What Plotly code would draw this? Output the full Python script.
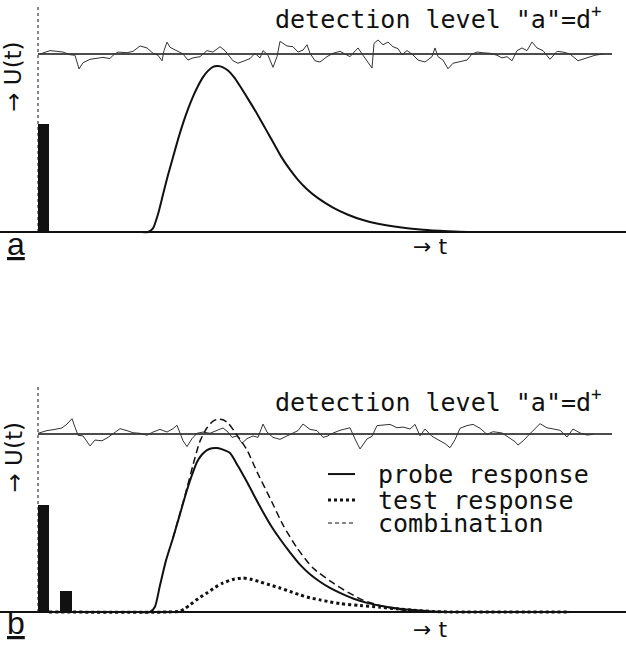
import plotly.graph_objects as go

# ---------------- data ----------------
level = 1.0          # detection level "a" = d+
t_end = 588

# stimulus bars: centre, width, height
bar_a_x = [5.5]
bar_a_w = [11]
bar_a_h = [0.607]
bar_b_x = [5.5, 28]
bar_b_w = [11, 12]
bar_b_h = [0.601, 0.119]

# probe response, panel a
probe_a_t = [11, 100, 110, 115, 120, 125, 130, 135, 140, 145, 150, 155, 160, 165, 170, 175,
             180, 185, 190, 196, 202, 210, 219, 227, 235, 243, 252, 260, 269, 280, 295, 310,
             325, 340, 358, 385, 410, 430, 588]
probe_a_u = [0, 0, 0, 0.02, 0.10, 0.21, 0.32, 0.42, 0.52, 0.61, 0.69, 0.76, 0.82, 0.87, 0.905, 0.928,
             0.932, 0.925, 0.907, 0.87, 0.82, 0.748, 0.665, 0.585, 0.505, 0.425, 0.35, 0.293, 0.24, 0.19,
             0.137, 0.097, 0.067, 0.046, 0.029, 0.012, 0.004, 0, 0]

# probe response, panel b
probe_b_t = [11, 100, 112, 117, 122, 128, 135, 142, 149, 154, 159, 164, 169, 174, 179, 185,
             192, 200, 209, 217, 225, 233, 242, 252, 262, 272, 282, 292, 302, 315, 330, 342,
             358, 375, 395, 412, 588]
probe_b_u = [0, 0, 0, 0.03, 0.15, 0.29, 0.416, 0.55, 0.685, 0.77, 0.843, 0.885, 0.91, 0.92, 0.921, 0.912,
             0.893, 0.82, 0.73, 0.645, 0.562, 0.485, 0.41, 0.335, 0.266, 0.212, 0.17, 0.135, 0.107,
             0.076, 0.05, 0.035, 0.021, 0.011, 0.003, 0, 0]

# test response, panel b
test_t = [11, 130, 142, 147, 152, 160, 169, 177, 185, 195, 205, 213, 222, 232, 242, 252, 262,
          272, 282, 292, 302, 322, 342, 358, 375, 395, 412, 532]
test_u = [0, 0, 0.005, 0.02, 0.04, 0.075, 0.107, 0.138, 0.163, 0.183, 0.191, 0.184, 0.169, 0.152,
          0.135, 0.115, 0.096, 0.08, 0.068, 0.057, 0.047, 0.036, 0.027, 0.018, 0.01, 0.003, 0, 0]

# combination (probe + test), panel b
comb_t = [135, 142, 149, 155, 162, 169, 175, 180, 185, 190, 199, 209, 219, 232, 245, 259, 275,
          295, 310, 325, 348, 372, 402]
comb_u = [0.416, 0.555, 0.697, 0.826, 0.96, 1.035, 1.072, 1.084, 1.08, 1.062, 0.994, 0.910, 0.787,
          0.640, 0.489, 0.360, 0.247, 0.163, 0.11, 0.067, 0.028, 0.006, 0]

# background noise around the detection level (deviation from level)
noise_a_t = [2, 5, 12, 19, 25, 32, 37, 41, 45, 52, 59, 65, 72, 75, 80, 89, 95, 102, 109, 115,
             120, 124, 126, 129, 132, 139, 145, 150, 155, 162, 169, 175, 182, 187, 192, 195,
             200, 207, 212, 217, 222, 225, 230, 235, 239, 242, 249, 255, 260, 265, 269, 272,
             277, 282, 289, 295, 302, 307, 312, 315, 320, 325, 330, 334, 336, 340, 345, 350,
             355, 360, 364, 369, 374, 380, 387, 394, 397, 400, 405, 410, 415, 422, 429, 434,
             439, 445, 452, 459, 464, 469, 474, 479, 484, 489, 494, 499, 505, 512, 519, 525,
             532, 540, 549, 557, 565]
noise_a = [0, 0.007, 0.019, 0.015, 0.011, -0.004, -0.007, -0.084, -0.049, -0.03, -0.022,
           -0.019, -0.026, -0.007, 0.011, 0.007, 0.015, 0.045, 0.034, 0.004, -0.007, -0.038,
           0.019, 0.067, 0.038, 0.015, 0, -0.034, -0.022, -0.015, 0.019, 0.011, 0.041, 0.019,
           -0.015, -0.038, -0.052, -0.038, -0.026, 0.004, -0.022, 0.019, -0.007, -0.075,
           -0.015, 0.071, 0.045, 0.041, 0.011, 0.022, 0.052, 0.004, -0.038, -0.045, -0.015,
           0.004, 0.015, 0, -0.015, 0.004, 0.034, -0.007, -0.045, -0.079, 0.06, 0.079, 0.052,
           0.067, 0.041, 0.03, -0.004, 0.019, 0, -0.034, -0.045, -0.015, 0.034, -0.015, -0.034,
           -0.083, -0.052, -0.045, -0.034, 0, 0.011, 0.007, 0.004, -0.007, -0.022, -0.015,
           -0.038, 0.019, 0.034, 0.019, 0.067, 0.034, 0.019, -0.03, 0.015, 0.011, 0, -0.038,
           -0.022, -0.007, 0]

noise_b_t = [0, 9, 17, 24, 29, 34, 37, 40, 45, 52, 57, 64, 70, 77, 82, 89, 95, 102, 109,
             115, 122, 129, 135, 139, 142, 145, 149, 154, 159, 165, 172, 179, 185, 190, 194,
             199, 204, 209, 215, 220, 225, 229, 235, 242, 249, 255, 260, 265, 272, 279, 285,
             290, 292, 302, 312, 317, 322, 329, 334, 339, 345, 352, 359, 365, 372, 377, 382,
             387, 394, 400, 407, 412, 417, 422, 429, 435, 442, 449, 455, 464, 470, 477, 480,
             485, 492, 497, 502, 509, 515, 522, 529, 535, 542, 549, 555]
noise_b = [0.004, 0.019, 0.026, 0.034, 0.056, 0.086, 0.038, -0.007, -0.011, -0.067, -0.034,
           -0.038, -0.019, 0.007, 0.03, 0.019, 0.007, 0.004, -0.007, 0.011, 0.026, 0.011,
           0.03, 0.049, 0, -0.038, -0.071, -0.026, 0.004, 0.011, 0.004, 0.019, 0.034, 0.011,
           -0.019, -0.011, -0.052, -0.026, -0.011, -0.019, 0.056, 0.011, -0.019, -0.03,
           -0.011, 0.007, 0.019, 0.056, 0.026, 0.019, -0.019, -0.011, -0.002, 0.021, 0.035,
           -0.028, -0.084, -0.028, -0.013, 0.047, 0.051, 0.054, 0.035, 0.039, 0.028, 0.054,
           -0.01, 0.028, -0.013, -0.032, -0.054, -0.077, -0.032, 0.032, 0.047, 0.054, 0.032,
           -0.002, 0.013, 0.006, -0.017, -0.043, -0.062, -0.039, 0.002, 0.028, 0.058, 0.035,
           0.028, 0.021, -0.017, 0.028, 0.006, -0.006, -0.002]

# ---------------- styling ----------------
mono = "DejaVu Sans Mono"
sans = "DejaVu Sans"
black = "#111111"
y_range = [-0.1573, 1.3034]
axis_top = 1.275
smooth = dict(shape="spline", smoothing=0.6)

fig = go.Figure()


def add_panel(xa, ya, bar_x, bar_w, bar_h, noise_t, noise_dev):
    fig.add_trace(go.Bar(x=bar_x, y=bar_h, width=bar_w, marker=dict(color=black, line_width=0),
                         xaxis=xa, yaxis=ya, showlegend=False))
    fig.add_trace(go.Scatter(x=[0, 574], y=[level, level], mode="lines",
                             line=dict(color=black, width=1.6), xaxis=xa, yaxis=ya, showlegend=False))
    fig.add_trace(go.Scatter(x=noise_t, y=[level + d for d in noise_dev], mode="lines",
                             line=dict(color="#333333", width=1), xaxis=xa, yaxis=ya, showlegend=False))


# panel a
add_panel("x", "y", bar_a_x, bar_a_w, bar_a_h, noise_a_t, noise_a)
fig.add_trace(go.Scatter(x=probe_a_t, y=probe_a_u, mode="lines", line=dict(color=black, width=2, **smooth),
                         xaxis="x", yaxis="y", showlegend=False))

# panel b
add_panel("x2", "y2", bar_b_x, bar_b_w, bar_b_h, noise_b_t, noise_b)
fig.add_trace(go.Scatter(x=test_t, y=test_u, mode="lines",
                         line=dict(color=black, width=3, dash="3px,3px", **smooth),
                         xaxis="x2", yaxis="y2", showlegend=False))
fig.add_trace(go.Scatter(x=probe_b_t, y=probe_b_u, mode="lines", line=dict(color=black, width=2, **smooth),
                         xaxis="x2", yaxis="y2", showlegend=False))
fig.add_trace(go.Scatter(x=comb_t, y=comb_u, mode="lines",
                         line=dict(color=black, width=1.5, dash="7px,4px", **smooth),
                         xaxis="x2", yaxis="y2", showlegend=False))

ax_common = dict(showgrid=False, showticklabels=False, ticks="", showline=False)
fig.update_layout(
    width=626, height=645, margin=dict(l=0, r=0, t=0, b=0),
    plot_bgcolor="white", paper_bgcolor="white", bargap=0,
    xaxis=dict(domain=[0, 1], range=[-38, t_end], zeroline=False, **ax_common),
    yaxis=dict(domain=[1 - 260 / 645, 1], range=y_range, zeroline=True, zerolinecolor=black,
               zerolinewidth=2, **ax_common),
    xaxis2=dict(domain=[0, 1], range=[-38, t_end], zeroline=False, anchor="y2", **ax_common),
    yaxis2=dict(domain=[1 - 640 / 645, 1 - 380 / 645], range=y_range, zeroline=True, zerolinecolor=black,
                zerolinewidth=2, anchor="x2", **ax_common),
)

shapes = []
annotations = []
for xa, ya, lab, lab_y, ut_y, t_y, det_y in [("x", "y", "a", -0.067, 0.872, -0.084, 1.205),
                                             ("x2", "y2", "b", -0.06, 0.868, -0.096, 1.191)]:
    shapes.append(dict(type="line", xref=xa, yref=ya, x0=0, x1=0, y0=0, y1=axis_top,
                       line=dict(color=black, width=1, dash="dot")))
    annotations.append(dict(xref=xa, yref=ya, x=235, y=det_y, xanchor="left", yanchor="middle",
                            text='detection level "a"=d<sup>+</sup>', showarrow=False,
                            font=dict(family=mono, size=25, color=black)))
    annotations.append(dict(xref=xa, yref=ya, x=-25, y=ut_y, xanchor="center", yanchor="middle",
                            text="→ U(t)", textangle=-90, showarrow=False,
                            font=dict(family=sans, size=23, color=black)))
    annotations.append(dict(xref=xa, yref=ya, x=373, y=t_y, xanchor="left", yanchor="middle",
                            text="→ t", showarrow=False, font=dict(family=sans, size=22, color=black)))
    annotations.append(dict(xref=xa, yref=ya, x=-22, y=lab_y, xanchor="center", yanchor="middle",
                            text="<u>" + lab + "</u>", showarrow=False,
                            font=dict(family="Liberation Sans", size=32, color=black)))

# legend for panel b
legend_items = [("probe response", 0.775, None, 2),
                ("test response", 0.629, "3px,3px", 3),
                ("combination", 0.50, "4px,3px", 1.2)]
for name, ly, dash, w in legend_items:
    line = dict(color=black, width=w)
    if dash:
        line["dash"] = dash
    shapes.append(dict(type="line", xref="x2", yref="y2", x0=290, x1=317, y0=ly, y1=ly, line=line))
    annotations.append(dict(xref="x2", yref="y2", x=338, y=ly, xanchor="left", yanchor="middle",
                            text=name, showarrow=False, font=dict(family=mono, size=25, color=black)))

fig.update_layout(shapes=shapes, annotations=annotations)
fig.write_html("out.html")
